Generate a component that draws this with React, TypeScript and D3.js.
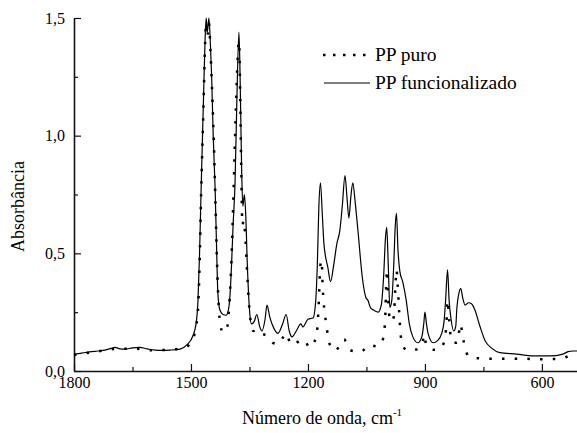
import React, { useEffect, useRef } from 'react';
import * as d3 from 'd3';

// PP funcionalizado (solid line)
const waveFunc = [1800, 1780, 1760, 1740, 1720, 1705, 1695, 1682, 1669, 1650, 1631, 1612, 1592, 1570, 1554, 1528, 1510, 1495, 1487, 1482, 1478, 1474, 1468, 1464, 1461, 1458, 1454, 1450, 1447, 1443, 1438, 1434, 1431, 1426, 1418, 1410, 1404, 1400, 1396, 1392, 1387, 1383, 1377, 1374, 1370, 1367, 1363, 1360, 1355, 1349, 1345, 1338, 1331, 1324, 1318, 1310, 1305, 1298, 1287, 1277, 1265, 1256, 1248, 1241, 1230, 1218, 1213, 1200, 1187, 1180, 1176, 1172, 1168, 1163, 1159, 1149, 1142, 1134, 1126, 1118, 1112, 1105, 1100, 1095, 1090, 1085, 1079, 1072, 1060, 1051, 1046, 1040, 1033, 1020, 1012, 1006, 1001, 998, 994, 990, 985, 980, 976, 973, 969, 964, 957, 948, 940, 931, 918, 908, 903, 900, 896, 892, 879, 867, 857, 851, 847, 842, 838, 833, 826, 821, 818, 813, 808, 803, 797, 788, 780, 772, 759, 746, 729, 708, 665, 622, 580, 546, 533, 520, 510];
const absFunc = [0.072, 0.076, 0.081, 0.085, 0.089, 0.096, 0.1, 0.094, 0.093, 0.098, 0.1, 0.094, 0.089, 0.088, 0.089, 0.093, 0.112, 0.15, 0.2, 0.3, 0.5, 0.77, 1.15, 1.4, 1.5, 1.44, 1.5, 1.38, 1.25, 1.0, 0.77, 0.5, 0.33, 0.26, 0.24, 0.237, 0.26, 0.32, 0.45, 0.62, 0.8, 1.1, 1.44, 1.25, 0.85, 0.7, 0.75, 0.68, 0.43, 0.24, 0.2, 0.21, 0.24, 0.19, 0.17, 0.22, 0.28, 0.23, 0.18, 0.16, 0.2, 0.24, 0.17, 0.145, 0.17, 0.2, 0.187, 0.22, 0.225, 0.3, 0.45, 0.7, 0.8, 0.66, 0.54, 0.44, 0.38, 0.45, 0.54, 0.6, 0.7, 0.83, 0.74, 0.65, 0.74, 0.8, 0.72, 0.6, 0.39, 0.31, 0.3, 0.27, 0.26, 0.25, 0.28, 0.4, 0.57, 0.61, 0.45, 0.27, 0.3, 0.45, 0.62, 0.67, 0.51, 0.42, 0.38, 0.3, 0.2, 0.145, 0.12, 0.145, 0.2, 0.25, 0.2, 0.16, 0.12, 0.13, 0.16, 0.21, 0.3, 0.43, 0.3, 0.22, 0.17, 0.19, 0.27, 0.33, 0.35, 0.31, 0.28, 0.29, 0.285, 0.26, 0.19, 0.13, 0.097, 0.078, 0.072, 0.064, 0.064, 0.072, 0.082, 0.085, 0.085];

// PP puro (dotted line)
const wavePuro = [1800, 1760, 1720, 1690, 1650, 1600, 1560, 1520, 1505, 1494, 1487, 1482, 1478, 1474, 1468, 1464, 1461, 1458, 1454, 1450, 1446, 1441, 1437, 1433, 1429, 1424, 1418, 1410, 1405, 1401, 1396, 1391, 1386, 1381, 1377, 1374, 1371, 1368, 1365, 1361, 1356, 1351, 1346, 1340, 1330, 1320, 1305, 1290, 1277, 1265, 1256, 1246, 1238, 1225, 1215, 1205, 1195, 1182, 1176, 1172, 1168, 1165, 1162, 1158, 1153, 1147, 1138, 1130, 1118, 1107, 1098, 1085, 1065, 1050, 1043, 1025, 1015, 1007, 1002, 999, 997, 994, 990, 985, 980, 976, 973, 970, 966, 962, 955, 940, 925, 912, 905, 902, 898, 890, 875, 860, 850, 845, 842, 838, 834, 826, 818, 813, 809, 805, 800, 794, 785, 765, 700, 650, 600, 560, 540, 528, 515];
const absPuro = [0.068, 0.078, 0.088, 0.095, 0.095, 0.088, 0.09, 0.098, 0.11, 0.14, 0.19, 0.26, 0.45, 0.75, 1.12, 1.38, 1.48, 1.42, 1.48, 1.36, 1.2, 0.95, 0.7, 0.45, 0.28, 0.19, 0.165, 0.17, 0.21, 0.3, 0.48, 0.75, 1.05, 1.3, 1.4, 1.2, 0.85, 0.62, 0.64, 0.58, 0.42, 0.28, 0.2, 0.17, 0.175, 0.16, 0.15, 0.12, 0.115, 0.14, 0.16, 0.12, 0.11, 0.125, 0.135, 0.12, 0.1, 0.13, 0.18, 0.3, 0.45, 0.47, 0.35, 0.26, 0.2, 0.13, 0.095, 0.086, 0.11, 0.135, 0.1, 0.085, 0.082, 0.1, 0.11, 0.105, 0.11, 0.14, 0.22, 0.38, 0.43, 0.3, 0.22, 0.21, 0.23, 0.35, 0.43, 0.37, 0.25, 0.15, 0.1, 0.086, 0.09, 0.1, 0.13, 0.155, 0.12, 0.096, 0.09, 0.096, 0.13, 0.2, 0.3, 0.22, 0.15, 0.12, 0.12, 0.16, 0.2, 0.17, 0.12, 0.08, 0.06, 0.054, 0.052, 0.052, 0.05, 0.052, 0.058, 0.068, 0.08];

const xTicks = [1800, 1500, 1200, 900, 600];
const xMinorTicks = [1650, 1350, 1050, 750];
const yTicks = [0, 0.5, 1.0, 1.5];
const yMinorTicks = [0.25, 0.75, 1.25];
const legendLabels = ['PP puro', 'PP funcionalizado'];

const W = 577;
const H = 433;
const FONT = "'Liberation Serif', 'DejaVu Serif', serif";
const DOTS = '2.5,10.2';

export default function App() {
  const ref = useRef<SVGSVGElement>(null);

  useEffect(() => {
    const svg = d3.select(ref.current);
    svg.selectAll('*').remove();

    const x = d3.scaleLinear().domain([1800, 510]).range([74, 577]);
    const y = d3.scaleLinear().domain([0, 1.5]).range([371, 18]);
    const fmt = (d: any) => d3.format('.1f')(d).replace('.', ',');

    // axes
    const xAxis = svg.append('g')
      .attr('transform', `translate(0, ${y(0)})`)
      .call(d3.axisBottom(x).tickValues(xTicks).tickSizeInner(-7).tickSizeOuter(0).tickPadding(6).tickFormat(d3.format('d')));
    svg.append('g')
      .attr('transform', `translate(0, ${y(0)})`)
      .call(d3.axisBottom(x).tickValues(xMinorTicks).tickSizeInner(-4).tickSizeOuter(0).tickFormat(() => ''))
      .select('.domain').remove();

    const yAxis = svg.append('g')
      .attr('transform', `translate(${x(1800)}, 0)`)
      .call(d3.axisLeft(y).tickValues(yTicks).tickSizeInner(-7).tickSizeOuter(0).tickPadding(9).tickFormat(fmt));
    svg.append('g')
      .attr('transform', `translate(${x(1800)}, 0)`)
      .call(d3.axisLeft(y).tickValues(yMinorTicks).tickSizeInner(-4).tickSizeOuter(0).tickFormat(() => ''))
      .select('.domain').remove();

    svg.selectAll('.domain').attr('stroke', '#111').attr('stroke-width', 1.6);
    svg.selectAll('.tick line').attr('stroke', '#111').attr('stroke-width', 1.2);
    [xAxis, yAxis].forEach(a => {
      a.attr('font-family', null).attr('font-size', null);
      a.selectAll('text')
        .style('font-family', FONT).style('font-size', '16px').attr('fill', '#000');
    });

    // curves
    const line = d3.line<[number, number]>()
      .x(d => x(d[0]))
      .y(d => y(d[1]))
      .curve(d3.curveMonotoneX);

    const puro: [number, number][] = wavePuro.map((w, i) => [w, absPuro[i]]);
    const func: [number, number][] = waveFunc.map((w, i) => [w, absFunc[i]]);

    svg.append('path')
      .attr('d', line(puro))
      .attr('fill', 'none')
      .attr('stroke', '#000')
      .attr('stroke-width', 2.5)
      .attr('stroke-dasharray', DOTS);

    svg.append('path')
      .attr('d', line(func))
      .attr('fill', 'none')
      .attr('stroke', '#000')
      .attr('stroke-width', 1.2);

    // legend
    const legend = svg.append('g');
    legend.append('line')
      .attr('x1', 323).attr('x2', 368).attr('y1', 55).attr('y2', 55)
      .attr('stroke', '#000').attr('stroke-width', 2.5).attr('stroke-dasharray', '2.5,7.5');
    legend.append('line')
      .attr('x1', 324).attr('x2', 370).attr('y1', 83).attr('y2', 83)
      .attr('stroke', '#000').attr('stroke-width', 1.2);
    legend.selectAll('text.lab')
      .data(legendLabels)
      .enter()
      .append('text')
      .attr('class', 'lab')
      .attr('x', 375)
      .attr('y', (d, i) => 61 + i * 28)
      .style('font-family', FONT)
      .style('font-size', '19.5px')
      .text(d => d);

    // axis titles
    svg.append('text')
      .attr('transform', `translate(24, ${(y(0) + y(1.5)) / 2 + 12}) rotate(-90)`)
      .attr('text-anchor', 'middle')
      .style('font-family', FONT)
      .style('font-size', '18px')
      .text('Absorbância');

    const xt = svg.append('text')
      .attr('x', 322)
      .attr('y', 424)
      .attr('text-anchor', 'middle')
      .style('font-family', FONT)
      .style('font-size', '18px');
    xt.append('tspan').text('Número de onda, cm');
    xt.append('tspan').attr('dy', -8).style('font-size', '11px').text('-1');
  }, []);

  return (
    <svg
      ref={ref}
      width={W}
      height={H}
      style={{ position: 'absolute', left: 0, top: 0, background: '#fff' }}
    />
  );
}
